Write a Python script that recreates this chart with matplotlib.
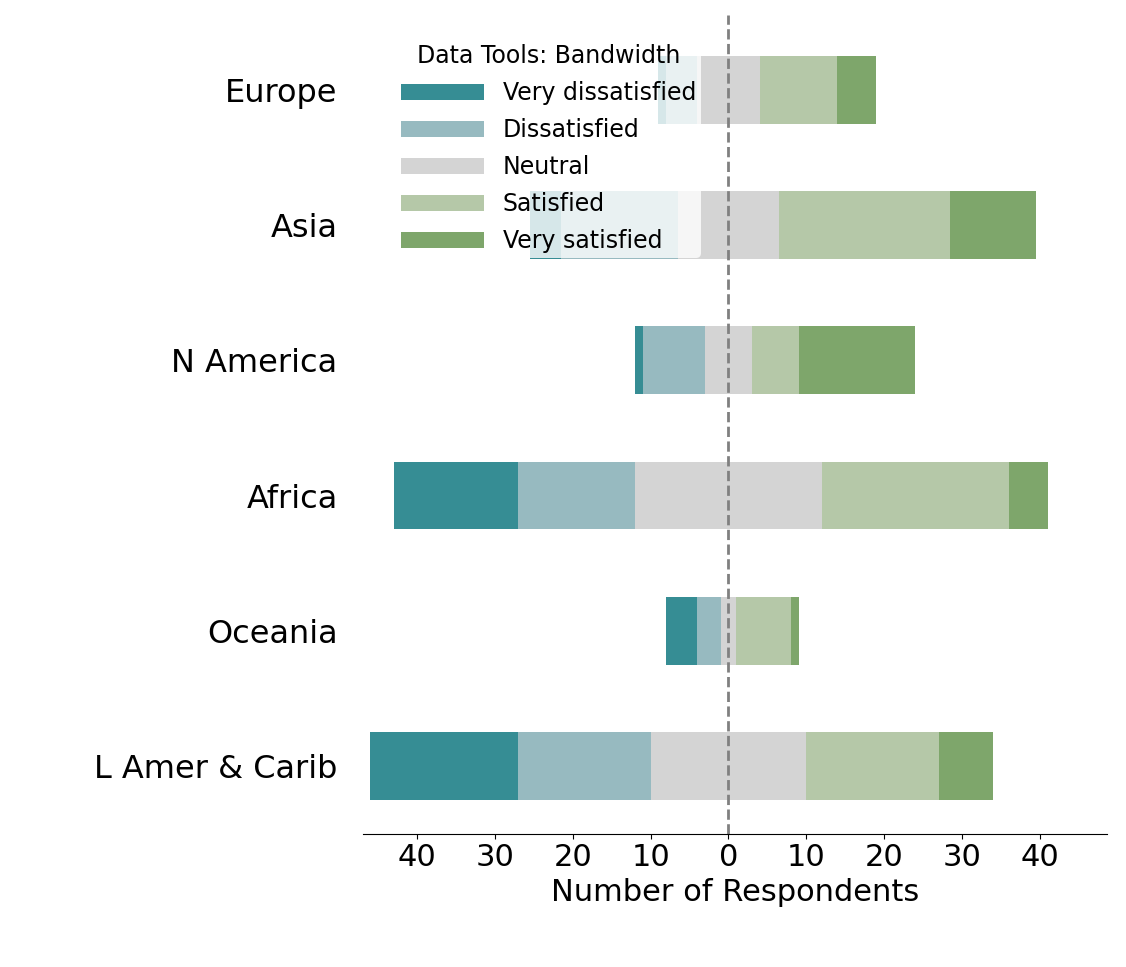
import matplotlib
matplotlib.use("Agg")
import matplotlib.pyplot as plt
import numpy as np

regions = ["Europe", "Asia", "N America", "Africa", "Oceania", "L Amer & Carib"]
very_dis = [1, 4, 1, 16, 4, 19]
dis = [4, 15, 8, 15, 3, 17]
neutral = [8, 13, 6, 24, 2, 20]
sat = [10, 22, 6, 24, 7, 17]
very_sat = [5, 11, 15, 5, 1, 7]
labels = ["Very dissatisfied", "Dissatisfied", "Neutral", "Satisfied", "Very satisfied"]
colors = ["#368d94", "#97bac0", "#d4d4d4", "#b5c8a8", "#7ea66b"]

fig = plt.figure(figsize=(11.26, 9.67), dpi=100)
ax = fig.add_axes([0.322, 0.138, 0.661, 0.846])
y = np.arange(len(regions))
vd, d, n, s, vs = map(np.array, (very_dis, dis, neutral, sat, very_sat))
starts = [-n/2 - d - vd, -n/2 - d, -n/2, n/2, n/2 + s]
widths = [vd, d, n, s, vs]
for st, w, c, l in zip(starts, widths, colors, labels):
    ax.barh(y, w, left=st, height=0.5, color=c, label=l, zorder=1)
ax.axvline(0, color="gray", linestyle="--", linewidth=2, zorder=2)
ax.set_ylim(5.5, -0.55)
ax.set_xlim(-47, 48.6)
ax.set_yticks(y)
ax.set_yticklabels(regions, fontsize=23)
ticks = [-40, -30, -20, -10, 0, 10, 20, 30, 40]
ax.set_xticks(ticks)
ax.set_xticklabels([str(abs(t)) for t in ticks], fontsize=22)
ax.set_xlabel("Number of Respondents", fontsize=22)
ax.tick_params(axis="y", length=0, pad=18)
for sp in ["top", "right", "left"]:
    ax.spines[sp].set_visible(False)
leg = ax.legend(loc="upper left", bbox_to_anchor=(0.03, 0.985), title="Data Tools: Bandwidth",
                fontsize=17, title_fontsize=17, frameon=True, edgecolor="none", framealpha=0.8,
                handlelength=3.5, borderpad=0.2, labelspacing=0.55)
leg.set_zorder(5)
fig.savefig("out.png", dpi=100)
